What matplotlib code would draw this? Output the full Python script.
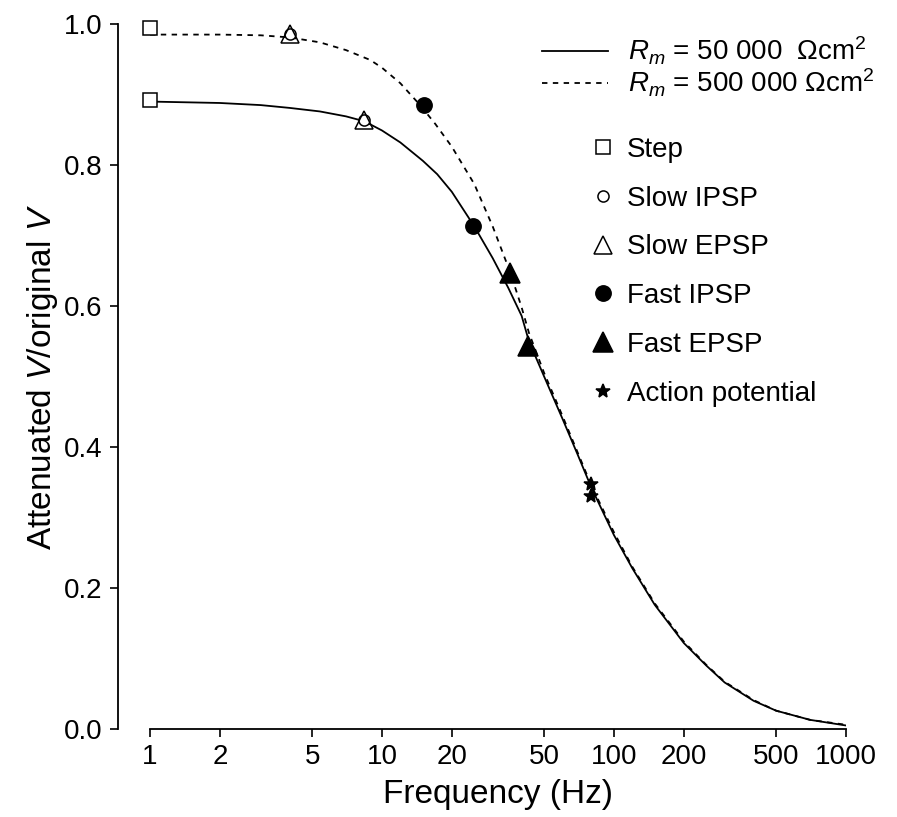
"""Voltage attenuation versus input frequency for two membrane resistances."""

import matplotlib
matplotlib.use("Agg")
import matplotlib.pyplot as plt
from matplotlib.lines import Line2D

plt.rcParams["font.family"] = ["Liberation Sans", "DejaVu Sans"]
plt.rcParams["mathtext.fontset"] = "custom"
plt.rcParams["mathtext.rm"] = "Liberation Sans"
plt.rcParams["mathtext.it"] = "Liberation Sans:italic"

# attenuation curves (frequency in Hz, ratio)
freq_low_rm = [1, 2, 3, 4, 5.4, 7, 8.4, 10, 12, 15, 17.3, 20, 25, 30, 35, 40,
               43, 50, 60, 70, 80, 100, 120, 150, 200, 250, 300, 400, 500,
               700, 1000]
atten_low_rm = [0.890, 0.888, 0.885, 0.881, 0.876, 0.869, 0.862, 0.849, 0.832,
                0.806, 0.787, 0.762, 0.713, 0.668, 0.626, 0.586, 0.550, 0.500,
                0.440, 0.388, 0.342, 0.275, 0.228, 0.176, 0.122, 0.090, 0.066,
                0.040, 0.026, 0.013, 0.005]

freq_high_rm = [1, 2, 3, 4, 5.4, 7, 8.9, 10, 12, 14.6, 17, 20, 25, 30, 35.7,
                40, 43, 50, 60, 70, 80, 100, 120, 150, 200, 250, 300, 400, 500,
                700, 1000]
atten_high_rm = [0.985, 0.985, 0.984, 0.981, 0.974, 0.963, 0.949, 0.938, 0.916,
                 0.885, 0.858, 0.826, 0.773, 0.713, 0.648, 0.598, 0.562, 0.505,
                 0.444, 0.391, 0.345, 0.279, 0.230, 0.178, 0.124, 0.091, 0.067,
                 0.041, 0.026, 0.013, 0.006]

# measured signal types
step_f = [1, 1]
step_v = [0.994, 0.892]
slow_ipsp_f = [4.0, 8.4]
slow_ipsp_v = [0.986, 0.864]
slow_epsp_f = [4.0, 8.4]
slow_epsp_v = [0.986, 0.864]
fast_ipsp_f = [15.2, 24.7]
fast_ipsp_v = [0.885, 0.713]
fast_epsp_f = [35.7, 42.6]
fast_epsp_v = [0.647, 0.543]
ap_f = [80, 80]
ap_v = [0.348, 0.330]

x_ticks = [1, 2, 5, 10, 20, 50, 100, 200, 500, 1000]
y_ticks = [0.0, 0.2, 0.4, 0.6, 0.8, 1.0]

fig = plt.figure(figsize=(8.97, 8.17), dpi=100)
ax = fig.add_axes([0.1672, 0.1077, 0.7759, 0.8629])

ax.plot(freq_low_rm, atten_low_rm, color="black", lw=1.3)
ax.plot(freq_high_rm, atten_high_rm, color="black", lw=1.3, ls=(0, (3, 3)))

marker_styles = [
    ("Step", step_f, step_v, "s", 10, "white"),
    ("Slow IPSP", slow_ipsp_f, slow_ipsp_v, "o", 8, "white"),
    ("Slow EPSP", slow_epsp_f, slow_epsp_v, "^", 13, "none"),
    ("Fast IPSP", fast_ipsp_f, fast_ipsp_v, "o", 11, "black"),
    ("Fast EPSP", fast_epsp_f, fast_epsp_v, "^", 15, "black"),
    ("Action potential", ap_f, ap_v, "*", 10, "black"),
]
marker_handles = []
for name, fx, fy, mk, ms, fc in marker_styles:
    ax.plot(fx, fy, ls="none", marker=mk, ms=ms, mfc=fc, mec="black",
            mew=1.1, clip_on=False, zorder=3)
    marker_handles.append(Line2D([], [], ls="none", marker=mk, ms=ms,
                                 mfc=fc, mec="black", mew=1.1))

ax.set_xscale("log")
ax.set_xlim(1, 1000)
ax.set_ylim(0, 1.0)
ax.set_xticks(x_ticks)
ax.set_xticklabels([str(t) for t in x_ticks])
ax.minorticks_off()
ax.set_yticks(y_ticks)
ax.set_yticklabels([f"{t:.1f}" for t in y_ticks])

for side in ("top", "right"):
    ax.spines[side].set_visible(False)
ax.spines["left"].set_position(("outward", 23))
ax.spines["left"].set_linewidth(1.3)
ax.spines["bottom"].set_linewidth(1.3)
ax.tick_params(direction="out", length=6, width=1.2, labelsize=20, pad=5)

ax.set_xlabel("Frequency (Hz)", fontsize=24, labelpad=6)
ax.set_ylabel(r"Attenuated $\mathit{V}$/original $\mathit{V}$", fontsize=24,
              labelpad=3)

line_handles = [Line2D([], [], color="black", lw=1.3),
                Line2D([], [], color="black", lw=1.3, ls=(0, (3, 3)))]
line_labels = [r"$\mathit{R_m}$ = 50 000  $\Omega$cm$^2$",
               r"$\mathit{R_m}$ = 500 000 $\Omega$cm$^2$"]
leg1 = ax.legend(line_handles, line_labels, loc="upper left",
                 bbox_to_anchor=(0.563, 0.985), frameon=False, fontsize=20,
                 handlelength=2.4, handletextpad=0.7, labelspacing=0.0,
                 borderpad=0, borderaxespad=0)
ax.add_artist(leg1)
ax.legend(marker_handles, [m[0] for m in marker_styles], loc="upper left",
          bbox_to_anchor=(0.635, 0.84), frameon=False, fontsize=20,
          handlelength=0.8, handletextpad=0.45, labelspacing=0.82,
          borderpad=0, borderaxespad=0)

fig.savefig("out.png", dpi=100)
